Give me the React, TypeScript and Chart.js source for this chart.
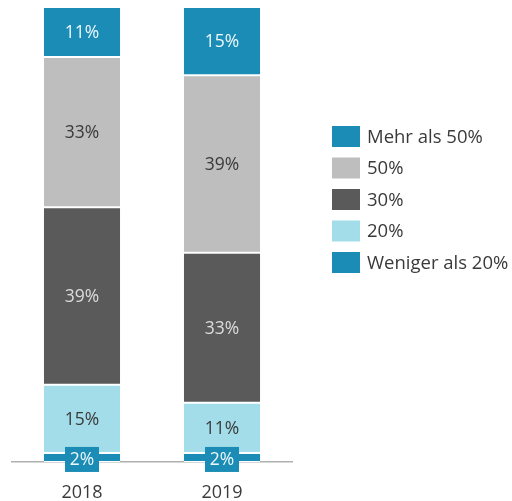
import React, { useEffect, useRef } from "react";
import { Chart, registerables } from "chart.js";

Chart.register(...registerables);

const categories = ["2018", "2019"];
const seriesLabels = ["Weniger als 20%", "20%", "30%", "50%", "Mehr als 50%"];
const wenigerAls20 = [2, 2];
const p20 = [15, 11];
const p30 = [39, 33];
const p50 = [33, 39];
const mehrAls50 = [11, 15];

const colors = ["#1a8cb6", "#a3dde9", "#5a5a5a", "#bebebe", "#1a8cb6"];
const textColors = ["#eef8fb", "#3a3a3a", "#dcdcdc", "#3a3a3a", "#eef8fb"];

const FONT = "'Open Sans', sans-serif";

const labelPlugin = {
  id: "segLabels",
  afterDraw(chart: any) {
    const ctx = chart.ctx;
    ctx.save();
    ctx.font = `17.5px ${FONT}`;
    ctx.textAlign = "center";
    ctx.textBaseline = "middle";
    chart.data.datasets.forEach((ds: any, di: number) => {
      const meta = chart.getDatasetMeta(di);
      meta.data.forEach((bar: any, i: number) => {
        const v = ds.data[i];
        const txt = v + "%";
        const cx = bar.x;
        let cy = (bar.y + bar.base) / 2;
        if (di === 0) {
          cy += 2;
          ctx.fillStyle = colors[0];
          ctx.fillRect(cx - 17, cy - 12.5, 34, 25);
        }
        ctx.fillStyle = textColors[di];
        ctx.fillText(txt, cx, cy + 1);
      });
    });
    // legend
    const items = [...chart.data.datasets].map((d: any, i: number) => ({ label: d.label, color: colors[i] })).reverse();
    items.forEach((it: any, k: number) => {
      const cy = 136.5 + k * 31.5;
      ctx.fillStyle = it.color;
      ctx.fillRect(332, cy - 10.5, 28, 21);
      ctx.fillStyle = "#3a3a3a";
      ctx.textAlign = "left";
      ctx.font = `18.5px ${FONT}`;
      ctx.fillText(it.label, 367, cy + 1);
    });
    ctx.restore();
  },
};

export default function App() {
  const ref = useRef<HTMLCanvasElement>(null);
  useEffect(() => {
    const all = [wenigerAls20, p20, p30, p50, mehrAls50];
    const chart = new Chart(ref.current!, {
      type: "bar",
      data: {
        labels: categories,
        datasets: all.map((d, i) => ({
          label: seriesLabels[i],
          data: d,
          backgroundColor: colors[i],
          borderColor: "#ffffff",
          borderWidth: { top: 1, bottom: 1, left: 0, right: 0 },
          borderSkipped: false,
          barPercentage: 0.545,
          categoryPercentage: 1,
        })),
      },
      options: {
        responsive: false,
        animation: false,
        layout: { padding: { left: 12, right: 220, top: 7, bottom: 0 } },
        plugins: { legend: { display: false }, tooltip: { enabled: false } },
        scales: {
          x: {
            stacked: true,
            grid: { display: false },
            border: { display: true, color: "#b0b0b0", width: 1.5 },
            ticks: { color: "#3a3a3a", font: { family: FONT, size: 18 }, padding: 12 },
            afterFit: (s: any) => {
              s.height = 39;
            },
          },
          y: { stacked: true, display: false, min: 0, max: 100 },
        },
      },
      plugins: [labelPlugin],
    });
    return () => chart.destroy();
  }, []);
  return (
    <div style={{ position: "fixed", left: 0, top: 0, width: 512, height: 501, background: "#fff" }}>
      <canvas ref={ref} width={512} height={501} />
    </div>
  );
}
